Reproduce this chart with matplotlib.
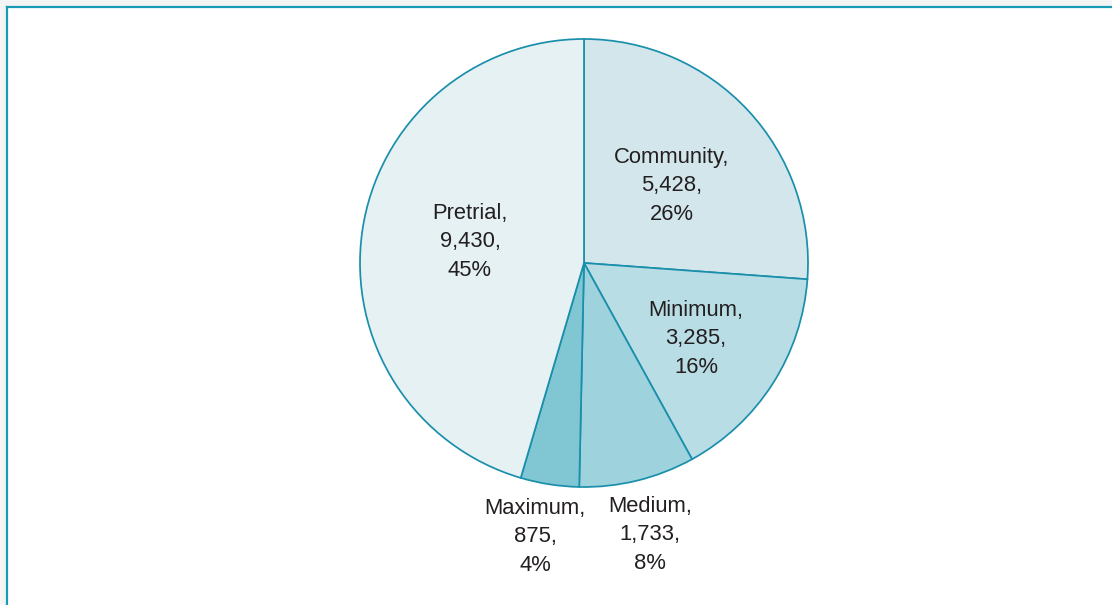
import numpy as np
import matplotlib
matplotlib.use("Agg")
import matplotlib.pyplot as plt
from matplotlib.lines import Line2D

# Population by custody category
categories = ["Community", "Minimum", "Medium", "Maximum", "Pretrial"]
counts = [5428, 3285, 1733, 875, 9430]
percents = [26, 16, 8, 4, 45]
colors = ["#d2e6ec", "#b8dde5", "#9ed2dc", "#80c6d3", "#e6f1f4"]

# Label anchors in units of the pie radius (centre of each text block)
label_xy = [(0.393, 0.345), (0.500, -0.338), (0.295, -1.214),
            (-0.219, -1.223), (-0.509, 0.094)]

W, H = 1112, 605
fig = plt.figure(figsize=(W / 100, H / 100), dpi=100)
fig.patch.set_facecolor("white")

# Frame: teal rule along top and left edges with a faint shadow
fig.add_artist(Line2D([0, 1], [1 - 3 / H, 1 - 3 / H], color="#f4f4f4", lw=4, transform=fig.transFigure))
fig.add_artist(Line2D([3 / W, 3 / W], [0, 1], color="#f4f4f4", lw=4, transform=fig.transFigure))
fig.add_artist(Line2D([7 / W, 1], [1 - 7 / H, 1 - 7 / H], color="#1a9bb5", lw=1.6, transform=fig.transFigure))
fig.add_artist(Line2D([7 / W, 7 / W], [0, 1 - 7 / H], color="#1a9bb5", lw=1.6, transform=fig.transFigure))

cx, cy, r = 584, 263, 224
ax = fig.add_axes([(cx - r) / W, (H - cy - r) / H, 2 * r / W, 2 * r / H])
wedges, _ = ax.pie(
    counts,
    colors=colors,
    startangle=90,
    counterclock=False,
    radius=1.0,
    wedgeprops=dict(edgecolor="#1a8fab", linewidth=1.25),
)
ax.set_xlim(-1, 1)
ax.set_ylim(-1, 1)
ax.set_aspect("equal")
ax.axis("off")

for name, n, p, (x, y) in zip(categories, counts, percents, label_xy):
    ax.text(x, y, f"{name},\n{n:,},\n{p}%", ha="center", va="center",
            fontsize=15.8, family=["Liberation Sans", "DejaVu Sans"],
            color="#231f20", linespacing=1.47, clip_on=False)

fig.savefig("out.png", dpi=100, facecolor="white")
